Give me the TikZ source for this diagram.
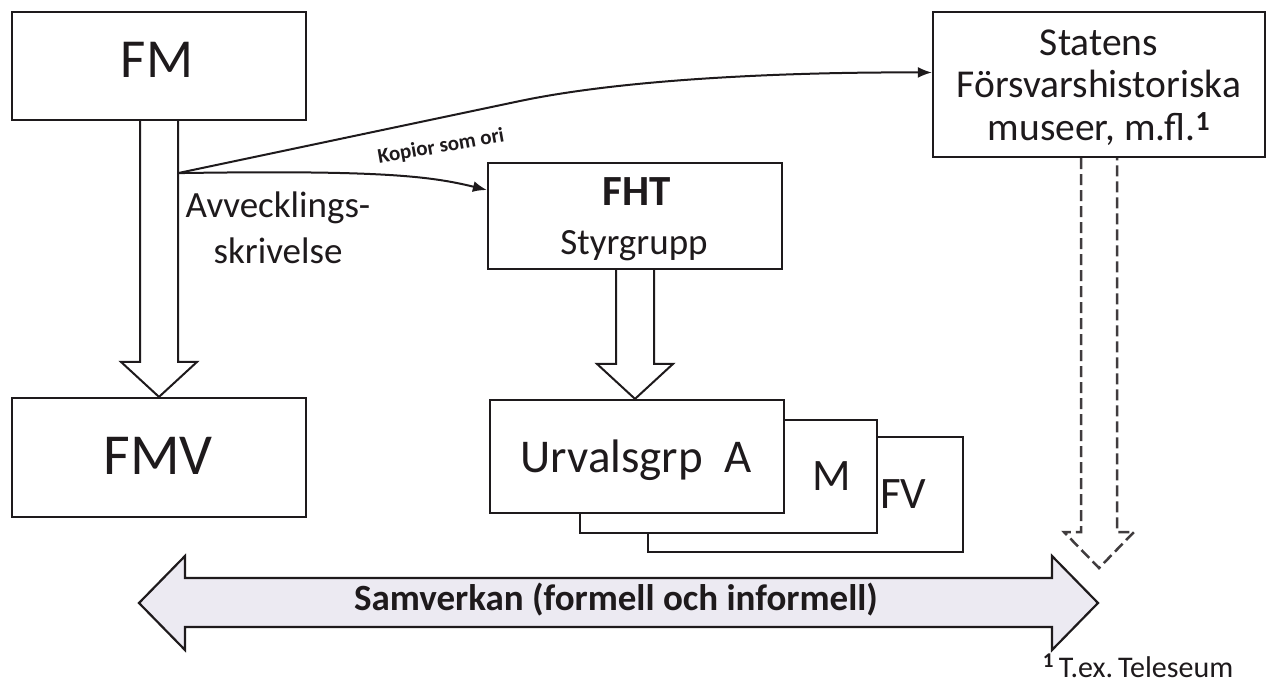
\documentclass[tikz,border=0pt]{standalone}
\usepackage{fontspec}
\setmainfont{Carlito}
\usetikzlibrary{calc,arrows.meta}
\definecolor{ink}{HTML}{1E1A1C}
\definecolor{lav}{HTML}{ECEAF2}
\newcommand\fsz[1]{\fontsize{#1}{#1}\selectfont}
\begin{document}
\begin{tikzpicture}[x=1pt,y=-1pt,
  box/.style={draw=ink,line width=2.2pt,fill=white,inner sep=0pt},
  txt/.style={text=ink,inner sep=0pt,anchor=base},
  blockarrow/.style={draw=ink,line width=2pt,fill=white,line join=miter},
  dasharrow/.style={draw=ink!85,line width=2.5pt,dash pattern=on 11pt off 5pt},
  dblarrow/.style={draw=ink,line width=2.2pt,fill=lav,line join=miter},
  conn/.style={draw=ink,line width=2pt,-{Latex[length=14pt,width=11pt]}},
]
\fill[white] (0,0) rectangle (1272,683);
\useasboundingbox (0,0) rectangle (1272,683);

% boxes
\node[box,minimum width=294pt,minimum height=108pt] (FM) at (159,66) {};
\node[box,minimum width=294pt,minimum height=119pt] (FMV) at (159,457.5) {};
\node[box,minimum width=294pt,minimum height=106pt] (FHT) at (635,216) {};
\node[box,minimum width=332pt,minimum height=145pt] (Statens) at (1099,84.5) {};
\node[box,minimum width=315pt,minimum height=115pt] (UFV) at (805.5,494.5) {};
\node[box,minimum width=297pt,minimum height=113pt] (UM) at (728.5,476.5) {};
\node[box,minimum width=294pt,minimum height=113pt] (UA) at (637,456.5) {};

% texts
\node[txt] (tFM) at (157,77) {\fsz{55}FM};
\node[txt] (tFMV) at (158,474) {\fsz{58}FMV};
\node[txt] (tFHT) at (637,205) {\fsz{43}\bfseries FHT};
\node[txt] (tSty) at (634,254) {\fsz{37}Styrgrupp};
\node[txt] (tA) at (636,472) {\fsz{47}Urvalsgrp~~A};
\node[txt,anchor=base west] (tM) at (812,490) {\fsz{45}M};
\node[txt,anchor=base west] (tFV) at (880,508) {\fsz{45}FV};
\node[txt] (tS1) at (1099,55) {\fsz{39.5}Statens};
\node[txt] (tS2) at (1099,97) {\fsz{39.5}Försvarshistoriska};
\node[txt] (tS3) at (1099,140) {\fsz{39.5}museer, m.fl.\textsuperscript{\bfseries 1}};
\node[txt] (tAv1) at (278,217) {\fsz{37}Avvecklings-};
\node[txt] (tAv2) at (278,263) {\fsz{37}skrivelse};
\node[txt] (tFoot) at (1138,677) {\fsz{30}\textsuperscript{\bfseries 1}\,T.ex.\,Teleseum};

% block arrows
\draw[blockarrow] ($(FM.south)+(-19,0)$) -- ($(FMV.north)+(-19,-35)$) -- ($(FMV.north)+(-38,-35)$) -- (FMV.north)
  -- ($(FMV.north)+(38,-35)$) -- ($(FMV.north)+(19,-35)$) -- ($(FM.south)+(19,0)$);
\coordinate (Atop) at (FHT.south |- UA.north);
\draw[blockarrow] ($(FHT.south)+(-19,0)$) -- ($(Atop)+(-19,-35)$) -- ($(Atop)+(-38,-35)$) -- (Atop)
  -- ($(Atop)+(38,-35)$) -- ($(Atop)+(19,-35)$) -- ($(FHT.south)+(19,0)$);

% dashed block arrow
\coordinate (dtip) at (1099,568);
\draw[dasharrow] ($(Statens.south)+(-18,0)$) -- ($(dtip)+(-18,-36)$) -- ($(dtip)+(-35,-36)$) -- (dtip)
  -- ($(dtip)+(35,-36)$) -- ($(dtip)+(18,-36)$) -- ($(Statens.south)+(18,0)$);

% double arrow
\coordinate (lt) at (139,603);
\coordinate (rt) at (1098,603);
\draw[dblarrow] (lt) -- ($(lt)+(46,-47)$) -- ($(lt)+(46,-25)$) -- ($(rt)+(-46,-25)$) -- ($(rt)+(-46,-47)$) -- (rt)
  -- ($(rt)+(-46,47)$) -- ($(rt)+(-46,24)$) -- ($(lt)+(46,24)$) -- ($(lt)+(46,47)$) -- cycle;
\node[txt] (tSam) at (616,610) {\fsz{37}\bfseries Samverkan (formell och informell)};

% connectors
\coordinate (split) at ($(FM.south)+(19,52)$);
\coordinate (bend) at (520,101);
\draw[conn] (split) -- (bend) .. controls (640,76) and (820,72) .. ($(Statens.west)+(0,-12)$);
\draw[conn] (split) .. controls (380,170) and (430,176) .. ($(FHT.west)+(0,-26)$);
\node[txt,rotate=10,anchor=center] (tKop) at (441,147) {\fsz{21}\bfseries Kopior som ori};
\end{tikzpicture}
\end{document}
